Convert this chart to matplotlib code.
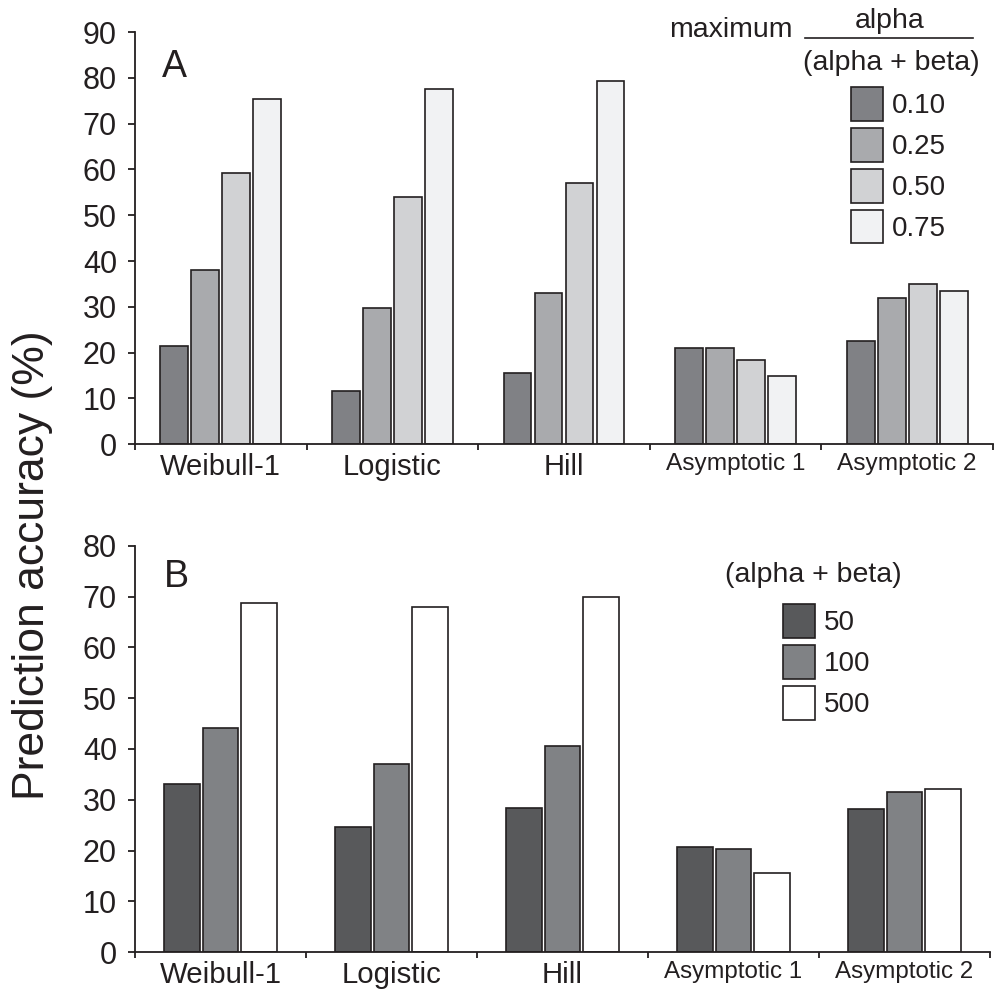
import numpy as np
import matplotlib
matplotlib.use("Agg")
from matplotlib import pyplot as plt
from matplotlib.lines import Line2D


# Données des deux panneaux
modeles = ["Weibull-1", "Logistic", "Hill", "Asymptotic 1", "Asymptotic 2"]

# Panneau A : maximum alpha / (alpha + beta)
rapports = ["0.10", "0.25", "0.50", "0.75"]
precision_a = [
    [21.5, 11.7, 15.6, 21.1, 22.5],  # 0.10
    [38.0, 29.7, 33.1, 21.1, 32.0],  # 0.25
    [59.2, 53.9, 57.1, 18.5, 35.0],  # 0.50
    [75.4, 77.5, 79.4, 14.8, 33.5],  # 0.75
]

# Panneau B : alpha + beta
sommes = ["50", "100", "500"]
precision_b = [
    [33.1, 24.6, 28.3, 20.8, 28.2],  # 50
    [44.2, 37.0, 40.5, 20.4, 31.6],  # 100
    [68.7, 67.9, 70.0, 15.7, 32.1],  # 500
]

# Styles
NOIR = "#231f20"
couleurs_a = ["#808185", "#a9aaad", "#d1d2d4", "#f1f2f3"]
couleurs_b = ["#58595b", "#808285", "#ffffff"]

plt.rcParams["font.family"] = ["Liberation Sans", "DejaVu Sans"]
plt.rcParams["text.color"] = NOIR


fig = plt.figure(figsize=(9.94, 9.91), dpi=100)
ax_a = fig.add_axes([135 / 994, (991 - 444.3) / 991, 858 / 994, 412.3 / 991])
ax_b = fig.add_axes([135 / 994, (991 - 952.3) / 991, 855 / 994, 406.6 / 991])


# Fonction pour les barres groupées d'un panneau
def barres(ax, valeurs, couleurs, etiquettes, pas, largeur):
    x = np.arange(len(modeles))
    n = len(valeurs)
    conteneurs = []
    for i, serie in enumerate(valeurs):
        decalage = (i - (n - 1) / 2) * pas
        c = ax.bar(x + decalage, serie, largeur, color=couleurs[i],
                   edgecolor=NOIR, linewidth=1.2, label=etiquettes[i], zorder=2)
        conteneurs.append(c)
    return conteneurs


# Mise en forme des axes
def axes(ax, ymax, tailles_x):
    ax.set_xlim(-0.5, len(modeles) - 0.5)
    ax.set_ylim(0, ymax)
    ax.set_yticks(np.arange(0, ymax + 1, 10))
    for cote in ["top", "right"]:
        ax.spines[cote].set_visible(False)
    for cote in ["left", "bottom"]:
        ax.spines[cote].set_linewidth(1.3)
        ax.spines[cote].set_color(NOIR)
        ax.spines[cote].set_zorder(3)
    ax.tick_params(axis="y", direction="out", length=5, width=1.3, color=NOIR,
                   labelsize=22, labelcolor=NOIR, pad=8)
    ax.set_xticks(np.arange(len(modeles)))
    ax.set_xticks(np.arange(-0.5, len(modeles)), minor=True)
    ax.tick_params(axis="x", which="major", length=0, pad=6, labelcolor=NOIR)
    ax.tick_params(axis="x", which="minor", direction="out", length=4, width=1.3, color=NOIR)
    ax.set_xticklabels(modeles)
    for lab, taille in zip(ax.get_xticklabels(), tailles_x):
        lab.set_fontsize(taille)


# Options communes des légendes
opts_legende = dict(loc="upper left", frameon=False, fontsize=20, handlelength=1.15,
                    handleheight=1.5, labelspacing=0.25, handletextpad=0.32,
                    borderpad=0, borderaxespad=0)

barres_a = barres(ax_a, precision_a, couleurs_a, rapports, 0.181, 0.162)
axes(ax_a, 90, [21, 21, 21, 17.6, 17.6])

barres_b = barres(ax_b, precision_b, couleurs_b, sommes, 0.225, 0.205)
axes(ax_b, 80, [21.2, 21.2, 21.2, 17.4, 17.4])

# Lettres des panneaux
ax_a.text(0.031, 0.891, "A", transform=ax_a.transAxes, fontsize=27, va="baseline")
ax_b.text(0.034, 0.898, "B", transform=ax_b.transAxes, fontsize=27, va="baseline")

# Titre de la légende A : maximum alpha / (alpha + beta)
fig.text(669 / 994, 1 - 37 / 991, "maximum", fontsize=20.5, va="baseline", ha="left")
fig.text(890 / 994, 1 - 28 / 991, "alpha", fontsize=20.5, va="baseline", ha="center")
fig.text(891 / 994, 1 - 70 / 991, "(alpha + beta)", fontsize=20.5, va="baseline", ha="center")
fig.add_artist(Line2D([805 / 994, 973 / 994], [1 - 38 / 991, 1 - 38 / 991],
                      transform=fig.transFigure, color=NOIR, linewidth=1.2))
ax_a.legend(handles=barres_a, bbox_to_anchor=((851 - 135) / 858, 1 - 55 / 412.3), **opts_legende)

# Légende du panneau B
fig.text(725 / 994, 1 - 575 / 991, "(alpha + beta)", fontsize=20.5, va="center", ha="left")
ax_b.legend(handles=barres_b, bbox_to_anchor=((783 - 135) / 855, 1 - (604 - 545.7) / 406.6),
            **opts_legende)

# Titre de l'axe vertical commun
fig.text(33 / 994, 1 - 565 / 991, "Prediction accuracy (%)", rotation=90,
         fontsize=32, ha="center", va="center")

fig.savefig("out.png", dpi=100)
